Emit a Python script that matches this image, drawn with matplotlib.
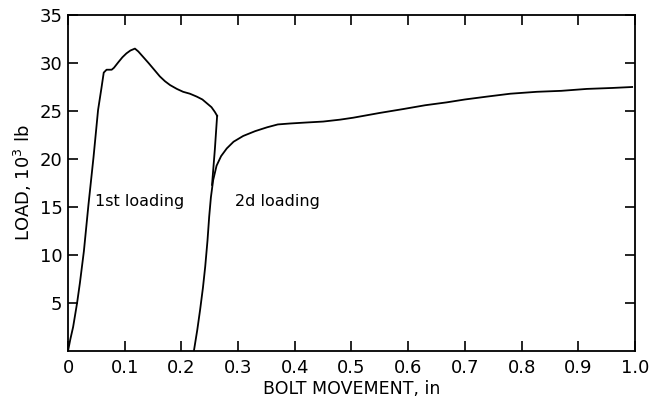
import matplotlib
matplotlib.use("Agg")
import matplotlib.pyplot as plt

# bolt movement (in) and load (10^3 lb)
first_x = [0.0, 0.004, 0.009, 0.016, 0.021, 0.028, 0.036, 0.045, 0.053, 0.059, 0.063,
           0.068, 0.077, 0.081, 0.089, 0.096, 0.103, 0.110, 0.118, 0.124, 0.133, 0.142,
           0.152, 0.162, 0.171, 0.180, 0.192, 0.203, 0.215, 0.227, 0.237, 0.245, 0.253,
           0.259, 0.263]
first_y = [0.0, 1.2, 2.5, 5.0, 7.1, 10.4, 15.2, 20.2, 25.1, 27.4, 29.0,
           29.3, 29.3, 29.5, 30.1, 30.6, 31.0, 31.3, 31.5, 31.2, 30.6, 30.0,
           29.3, 28.6, 28.1, 27.7, 27.3, 27.0, 26.8, 26.5, 26.2, 25.8, 25.4,
           24.9, 24.5]

unload_x = [0.263, 0.259, 0.254]
unload_y = [24.5, 21.0, 17.3]

second_x = [0.222, 0.228, 0.233, 0.238, 0.242, 0.246, 0.249, 0.252, 0.256, 0.262, 0.270,
            0.280, 0.292, 0.309, 0.330, 0.351, 0.370, 0.392, 0.420, 0.450, 0.480, 0.503,
            0.550, 0.591, 0.630, 0.668, 0.700, 0.739, 0.780, 0.827, 0.870, 0.915, 0.960, 0.995]
second_y = [0.0, 2.2, 4.3, 6.6, 8.8, 11.5, 14.0, 16.0, 17.8, 19.3, 20.3,
            21.1, 21.8, 22.4, 22.9, 23.3, 23.6, 23.7, 23.8, 23.9, 24.1, 24.3,
            24.8, 25.2, 25.6, 25.9, 26.2, 26.5, 26.8, 27.0, 27.1, 27.3, 27.4, 27.5]

x_ticks = [0, 0.1, 0.2, 0.3, 0.4, 0.5, 0.6, 0.7, 0.8, 0.9, 1.0]
x_labels = ["0", "0.1", "0.2", "0.3", "0.4", "0.5", "0.6", "0.7", "0.8", "0.9", "1.0"]
y_ticks = [5, 10, 15, 20, 25, 30, 35]

plt.rcParams["font.family"] = "DejaVu Sans"

fig = plt.figure(figsize=(6.49, 4.01), dpi=100)
ax = fig.add_axes([0.1048, 0.1247, 0.8736, 0.8379])

ax.plot(first_x, first_y, color="black", lw=1.3)
ax.plot(unload_x, unload_y, color="black", lw=1.3)
ax.plot(second_x, second_y, color="black", lw=1.3)

ax.text(0.047, 15.6, "1st loading", fontsize=11.5, va="center", ha="left")
ax.text(0.294, 15.6, "2d loading", fontsize=11.5, va="center", ha="left")

ax.set_xlim(0, 1.0)
ax.set_ylim(0, 35)
ax.set_xticks(x_ticks)
ax.set_xticklabels(x_labels)
ax.set_yticks(y_ticks)
ax.tick_params(direction="in", length=7, width=1.2, labelsize=13,
               top=True, right=True, pad=6)
ax.tick_params(axis="y", pad=4)
for s in ax.spines.values():
    s.set_linewidth(1.3)

ax.set_xlabel("BOLT MOVEMENT, in", fontsize=12.5, labelpad=2)
ax.set_ylabel("LOAD, 10$^3$ lb", fontsize=13, labelpad=4)

fig.savefig("out.png", dpi=100)
